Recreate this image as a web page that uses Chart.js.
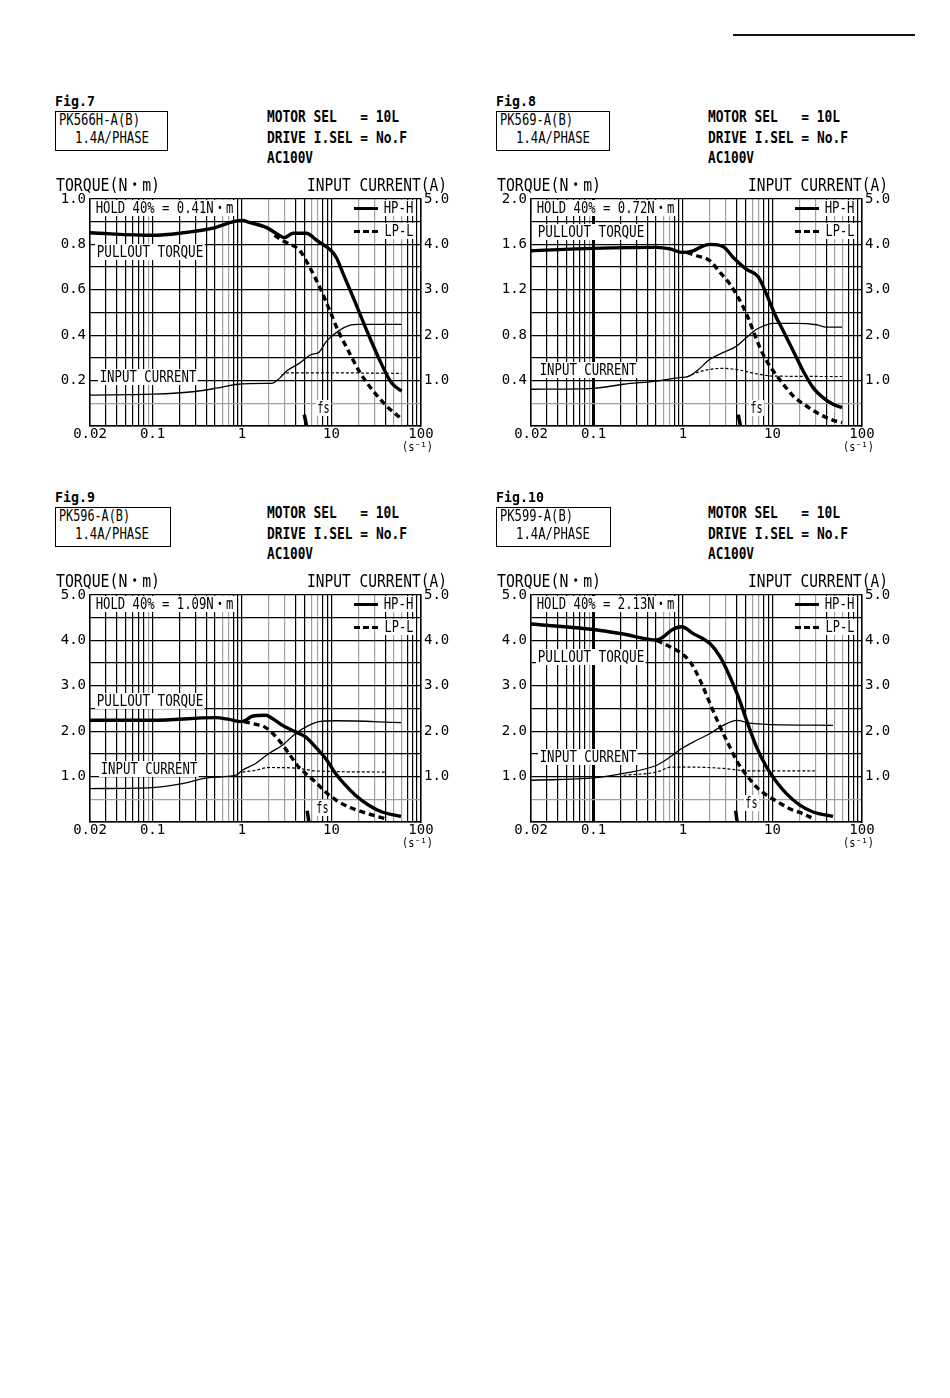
<!DOCTYPE html>
<html><head><meta charset="utf-8">
<script src="https://cdn.jsdelivr.net/npm/chart.js@4.4.1/dist/chart.umd.min.js"></script>
<style>
html,body{margin:0;padding:0;background:#fff;}
#page{position:relative;width:950px;height:1398px;overflow:hidden;background:#fff;}
.t{position:absolute;white-space:pre;font-family:"DejaVu Sans Mono","Noto Sans CJK JP",monospace;color:#000;transform-origin:0 50%;line-height:16px;}
.bg{background:#fff;}
canvas{position:absolute;}
.box{position:absolute;border:1px solid #000;box-sizing:border-box;}
.rule{position:absolute;left:733px;top:34px;width:182px;height:2px;background:#111;}
.seg{position:absolute;height:3.5px;width:24px;}
</style></head><body><div id="page"><div class="rule"></div></div>
<script>
// ---------- axis / tick data ----------
const xGridValues = [0.02,0.03,0.04,0.05,0.06,0.07,0.08,0.09,0.1,0.2,0.3,0.4,0.5,0.6,0.7,0.8,0.9,1,2,3,4,5,6,7,8,9,10,20,30,40,50,60,70,80,90,100];
const xGrayValues = [0.09,0.6,0.7,2,3,6,7,20,30,50,60];
const xTickValues = [0.02,0.1,1,10,100];
const xTickLabels = ['0.02','0.1','1','10','100'];
const torqueMax = [1.0,2.0,5.0,5.0];
const currentMax = 5.0;
const thickTenthLine = [false,true,false,true];

// ---------- texts ----------
const figNames = ['Fig.7','Fig.8','Fig.9','Fig.10'];
const modelNames = ['PK566H-A(B)','PK569-A(B)','PK596-A(B)','PK599-A(B)'];
const phaseText = '1.4A/PHASE';
const condLines = ['MOTOR SEL   = 10L','DRIVE I.SEL = No.F','AC100V'];
const holdTexts = ['HOLD 40% = 0.41N・m','HOLD 40% = 0.72N・m','HOLD 40% = 1.09N・m','HOLD 40% = 2.13N・m'];
const leftTitle = 'TORQUE(N・m)';
const rightTitle = 'INPUT CURRENT(A)';
const unitText = '(s⁻¹)';
const seriesNames = ['HP-H','LP-L'];
const curveNames = ['PULLOUT TORQUE','INPUT CURRENT','fs'];

// ---------- Fig.7 PK566H-A(B) ----------
const fig7TorqueHP = [[0.02,0.851],[0.1,0.84],[0.2,0.849],[0.5,0.874],[0.8,0.90],[1.0,0.905],[1.23,0.896],[1.88,0.874],[2.44,0.847],[3.0,0.83],[3.7,0.849],[5.2,0.849],[7.0,0.815],[10,0.771],[11.4,0.74],[13.5,0.67],[16.1,0.60],[20.8,0.493],[25.8,0.404],[34.8,0.287],[45,0.20],[50,0.178],[60.7,0.154]];
const fig7TorqueLP = [[2.3,0.84],[2.9,0.815],[4.44,0.771],[5.74,0.697],[7.43,0.609],[9.6,0.507],[11.9,0.418],[14.8,0.345],[20.8,0.235],[29.3,0.154],[41.3,0.088],[58.2,0.037]];
const fig7CurrentHP = [[0.02,0.68],[0.1,0.70],[0.3,0.76],[0.54,0.84],[0.9,0.92],[1.8,0.94],[2.14,0.94],[2.65,1.06],[3.15,1.21],[4.44,1.39],[6.0,1.58],[7.1,1.61],[8.81,1.87],[11.9,2.09],[16.1,2.22],[20,2.24],[60.7,2.24]];
const fig7CurrentLP = [[2.75,1.12],[3.2,1.17],[10,1.17],[60.7,1.16]];
const fig7Fs = [[4.96,0.05],[5.27,0]];

// ---------- Fig.8 PK569-A(B) ----------
const fig8TorqueHP = [[0.02,1.544],[0.1,1.565],[0.508,1.574],[0.716,1.56],[0.966,1.53],[1.30,1.544],[1.55,1.574],[2.0,1.60],[2.82,1.58],[3.64,1.485],[5.13,1.38],[6.92,1.315],[8.58,1.16],[10.6,0.985],[13.2,0.838],[17.0,0.662],[22.0,0.485],[28.4,0.338],[36.7,0.25],[47.5,0.191],[59.8,0.162]];
const fig8TorqueLP = [[1.10,1.53],[1.42,1.5],[2.0,1.456],[2.59,1.353],[3.34,1.25],[4.14,1.132],[5.13,0.985],[6.09,0.838],[7.22,0.691],[8.58,0.574],[10.2,0.485],[13.2,0.368],[17.0,0.265],[23.9,0.176],[33.7,0.103],[47.5,0.05],[59.8,0.029]];
const fig8CurrentHP = [[0.02,0.809],[0.1,0.83],[0.216,0.92],[0.508,0.99],[0.966,1.07],[1.10,1.08],[1.42,1.21],[2.0,1.47],[2.82,1.62],[3.97,1.76],[5.13,1.95],[6.63,2.13],[8.58,2.23],[10.2,2.26],[18.5,2.26],[31.0,2.23],[40.0,2.18],[59.8,2.18]];
const fig8CurrentLP = [[1.10,1.08],[1.55,1.2],[2.82,1.27],[4.32,1.23],[6.63,1.15],[10.2,1.10],[59.8,1.09]];
const fig8Fs = [[4.14,0.1],[4.39,0]];

// ---------- Fig.9 PK596-A(B) ----------
const fig9TorqueHP = [[0.02,2.24],[0.1,2.24],[0.508,2.30],[0.716,2.26],[0.966,2.21],[1.10,2.24],[1.30,2.33],[1.84,2.35],[2.18,2.28],[2.82,2.13],[3.97,1.985],[5.13,1.875],[6.63,1.65],[8.58,1.40],[11.1,1.07],[14.3,0.81],[18.5,0.59],[26.1,0.37],[36.7,0.22],[59.8,0.125]];
const fig9TorqueLP = [[1.05,2.21],[1.30,2.17],[1.84,2.08],[2.59,1.80],[3.34,1.51],[4.14,1.25],[5.13,1.07],[6.63,0.88],[8.58,0.66],[11.1,0.49],[15.6,0.33],[23.9,0.20],[40.0,0.074]];
const fig9CurrentHP = [[0.02,0.735],[0.1,0.757],[0.216,0.846],[0.429,0.978],[0.85,1.03],[1.01,1.14],[1.42,1.29],[2.0,1.51],[2.82,1.69],[3.97,1.95],[5.59,2.13],[7.22,2.21],[11.1,2.23],[59.8,2.19]];
const fig9CurrentLP = [[1.01,1.10],[1.42,1.14],[2.0,1.20],[4.32,1.18],[6.63,1.125],[40.0,1.10]];
const fig9Fs = [[5.35,0.25],[5.59,0]];

// ---------- Fig.10 PK599-A(B) ----------
const fig10TorqueHP = [[0.02,4.36],[0.1,4.24],[0.216,4.14],[0.508,4.01],[0.604,4.08],[0.748,4.23],[0.966,4.30],[1.30,4.15],[2.0,3.93],[2.59,3.64],[3.34,3.20],[4.14,2.76],[5.13,2.24],[6.63,1.65],[8.58,1.21],[11.1,0.88],[14.3,0.625],[20.2,0.37],[28.4,0.22],[47.5,0.125]];
const fig10TorqueLP = [[0.508,4.0],[0.716,3.86],[0.966,3.71],[1.20,3.53],[1.55,3.125],[2.0,2.61],[2.59,2.10],[3.34,1.65],[4.14,1.29],[5.13,1.03],[6.63,0.77],[8.58,0.59],[11.1,0.46],[15.6,0.29],[22.0,0.18],[27.2,0.096]];
const fig10CurrentHP = [[0.02,0.92],[0.1,0.97],[0.216,1.07],[0.508,1.25],[0.716,1.43],[0.966,1.62],[1.42,1.80],[2.0,1.95],[2.82,2.13],[3.97,2.24],[5.59,2.18],[8.58,2.15],[47.5,2.13]];
const fig10CurrentLP = [[0.216,1.03],[0.508,1.10],[0.748,1.21],[1.20,1.21],[2.82,1.18],[5.59,1.125],[29.7,1.125]];
const fig10Fs = [[3.87,0.25],[4.03,0]];

// ---------- table built from the arrays ----------
const series = [
  [fig7TorqueHP, fig7TorqueLP, fig7CurrentHP, fig7CurrentLP, fig7Fs],
  [fig8TorqueHP, fig8TorqueLP, fig8CurrentHP, fig8CurrentLP, fig8Fs],
  [fig9TorqueHP, fig9TorqueLP, fig9CurrentHP, fig9CurrentLP, fig9Fs],
  [fig10TorqueHP, fig10TorqueLP, fig10CurrentHP, fig10CurrentLP, fig10Fs]
];

// ---------- layout (positions only) ----------
const layoutPanels = [
  {dx:0,   dy:0,   boxW:113, l1W:81, figW:40, pull:[97,252], cur:[100,377], fs:[318,408]},
  {dx:441, dy:0,   boxW:114, l1W:73, figW:40, pull:[97,232], cur:[99,370],  fs:[310,408]},
  {dx:0,   dy:396, boxW:116, l1W:71, figW:40, pull:[97,305], cur:[101,373], fs:[317,412]},
  {dx:441, dy:396, boxW:115, l1W:73, figW:48, pull:[97,261], cur:[99,361],  fs:[305,407]}
];

const page = document.getElementById('page');
function addText(x, cy, s, w, o) {
  o = o || {};
  const size = o.size || 15, pad = o.bg ? 2 : 0;
  const el = document.createElement('div');
  el.className = 't' + (o.bg ? ' bg' : '');
  el.textContent = s;
  el.style.fontSize = size + 'px';
  el.style.lineHeight = (o.lh || 16) + 'px';
  if (o.bold) el.style.fontWeight = 'bold';
  el.style.padding = '0 ' + pad + 'px';
  el.style.left = (x - pad) + 'px';
  el.style.top = (cy - (o.lh || 16) / 2) + 'px';
  page.appendChild(el);
  const m = el.getBoundingClientRect().width;
  el.style.transform = 'scaleX(' + ((w + 2 * pad) / m) + ')';
  return el;
}
function near(a, b) { return Math.abs(a - b) <= 1e-6 * Math.abs(b); }
const FONT = 'DejaVu Sans Mono';

function makePanel(i) {
  const L = layoutPanels[i], dx = L.dx, dy = L.dy;
  const plotLeft = 90 + dx, plotTop = 199 + dy;
  const c = document.createElement('canvas');
  c.width = 420; c.height = 275;
  c.style.left = (plotLeft - 50) + 'px'; c.style.top = (plotTop - 14) + 'px';
  c.style.width = '420px'; c.style.height = '275px';
  page.appendChild(c);
  const tMax = torqueMax[i];
  const s = series[i];
  const base = {pointRadius:0, borderColor:'#000', fill:false, cubicInterpolationMode:'monotone', borderCapStyle:'butt'};
  new Chart(c, {
    type: 'line',
    data: { datasets: [
      Object.assign({}, base, {label:seriesNames[0]+' torque', data:s[0], yAxisID:'y', borderWidth:3.4}),
      Object.assign({}, base, {label:seriesNames[1]+' torque', data:s[1], yAxisID:'y', borderWidth:3.4, borderDash:[6,4]}),
      Object.assign({}, base, {label:seriesNames[0]+' current', data:s[2], yAxisID:'y1', borderWidth:1.3}),
      Object.assign({}, base, {label:seriesNames[1]+' current', data:s[3], yAxisID:'y1', borderWidth:1.2, borderDash:[3,2]}),
      Object.assign({}, base, {label:'fs', data:s[4], yAxisID:'y', borderWidth:3.5, cubicInterpolationMode:'default', tension:0})
    ]},
    options: {
      responsive:false, animation:false, devicePixelRatio: window.devicePixelRatio || 1,
      layout:{padding:{top:14,left:0,right:0,bottom:0}},
      plugins:{legend:{display:false}, tooltip:{enabled:false}},
      events:[],
      scales:{
        x:{type:'logarithmic', min:0.02, max:100,
          afterBuildTicks: a => { a.ticks = xGridValues.map(v => ({value:v})); },
          afterFit: a => { a.height = 34; },
          ticks:{autoSkip:false, maxRotation:0, minRotation:0, padding:0, color:'#000', font:{family:FONT, size:14},
            callback: v => { const k = xTickValues.findIndex(t => near(v, t)); return k >= 0 ? xTickLabels[k] : ''; }},
          grid:{drawTicks:false,
            color: ctx => xGrayValues.some(g => near(ctx.tick.value, g)) ? '#a0a0a0' : '#000',
            lineWidth: ctx => (thickTenthLine[i] && near(ctx.tick.value, 0.1)) ? 3 : 1.2},
          border:{display:true, color:'#000', width:1.5}
        },
        y:{position:'left', min:0, max:tMax,
          afterFit: a => { a.width = 50; },
          ticks:{stepSize:tMax/10, autoSkip:false, padding:4, color:'#000', font:{family:FONT, size:14},
            callback: (v, k) => (k > 0 && k % 2 === 0) ? v.toFixed(1) : ''},
          grid:{drawTicks:false, color: ctx => ctx.index === 1 ? '#a0a0a0' : '#000', lineWidth: ctx => ctx.index === 1 ? 1.2 : 1.3},
          border:{display:true, color:'#000', width:1.5}
        },
        y1:{position:'right', min:0, max:currentMax,
          afterFit: a => { a.width = 39; },
          ticks:{stepSize:1, autoSkip:false, padding:3, color:'#000', font:{family:FONT, size:14},
            callback: (v, k) => k > 0 ? v.toFixed(1) : ''},
          grid:{display:false, drawTicks:false, tickLength:0},
          border:{display:true, color:'#000', width:1.5}
        }
      }
    }
  });

  // header texts
  addText(55 + dx, 101 + dy, figNames[i], L.figW, {size:14, bold:true});
  const box = document.createElement('div');
  box.className = 'box';
  box.style.left = (55 + dx) + 'px'; box.style.top = (111 + dy) + 'px';
  box.style.width = L.boxW + 'px'; box.style.height = '40px';
  page.appendChild(box);
  addText(59 + dx, 120 + dy, modelNames[i], L.l1W, {size:15});
  addText(75 + dx, 138 + dy, phaseText, 74, {size:15});
  addText(267 + dx, 117 + dy, condLines[0], 132, {size:15, bold:true});
  addText(267 + dx, 138 + dy, condLines[1], 140, {size:15, bold:true});
  addText(267 + dx, 158 + dy, condLines[2], 46, {size:15, bold:true});
  addText(56 + dx, 185 + dy, leftTitle, 104, {size:18, lh:20});
  addText(307 + dx, 185 + dy, rightTitle, 140, {size:18, lh:20});
  addText(402 + dx, 447 + dy, unitText, 31, {size:13});
  // in-plot labels
  addText(96 + dx, 208 + dy, holdTexts[i], 137, {size:15, bg:true});
  addText(L.pull[0] + dx, L.pull[1] + dy, curveNames[0], 106, {size:15, bg:true});
  addText(L.cur[0] + dx, L.cur[1] + dy, curveNames[1], 96, {size:15, bg:true});
  addText(L.fs[0] + dx, L.fs[1] + dy, curveNames[2], 11, {size:15, bg:true});
  // legend
  const s1 = document.createElement('div');
  s1.className = 'seg'; s1.style.left = (354 + dx) + 'px'; s1.style.top = (206.5 + dy) + 'px'; s1.style.background = '#000';
  page.appendChild(s1);
  const s2 = document.createElement('div');
  s2.className = 'seg'; s2.style.left = (354 + dx) + 'px'; s2.style.top = (229.5 + dy) + 'px';
  s2.style.background = 'repeating-linear-gradient(90deg,#000 0 6px,transparent 6px 9px)';
  page.appendChild(s2);
  addText(384 + dx, 208 + dy, seriesNames[0], 29, {size:15, bg:true});
  addText(385 + dx, 231 + dy, seriesNames[1], 28, {size:15, bg:true});
}
for (let i = 0; i < 4; i++) makePanel(i);
</script>
</body></html>
